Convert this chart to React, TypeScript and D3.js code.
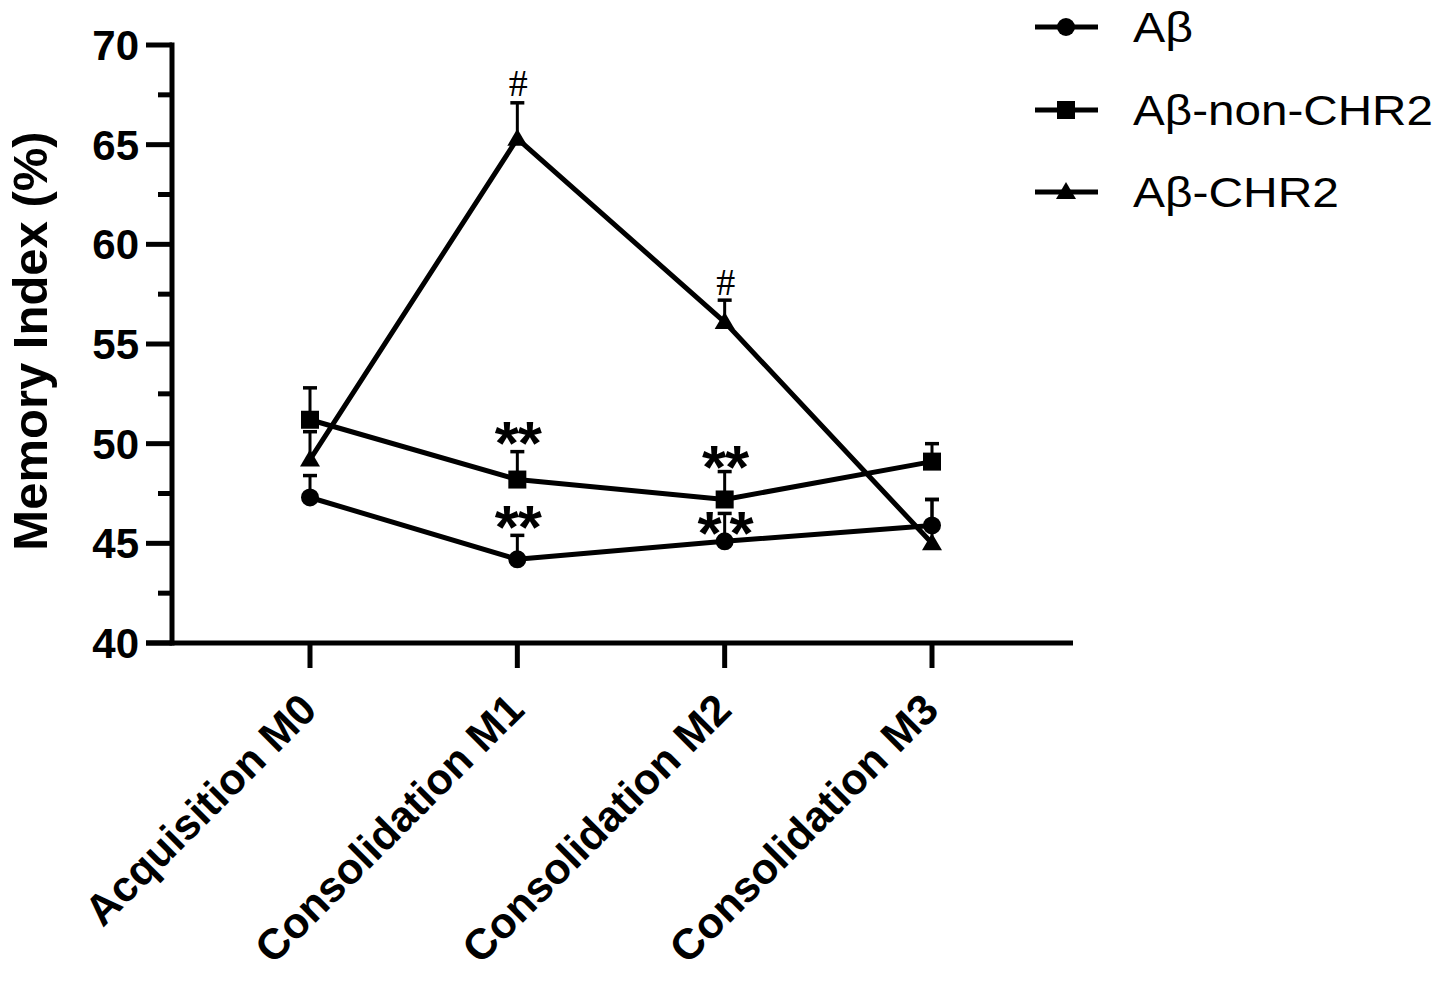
import * as d3 from "d3";
import { useEffect, useRef } from "react";

const categories = ["Acquisition M0", "Consolidation M1", "Consolidation M2", "Consolidation M3"];

const abMean = [47.3, 44.2, 45.1, 45.9];
const abErr = [1.1, 1.2, 1.4, 1.3];
const nonChr2Mean = [51.2, 48.2, 47.2, 49.1];
const nonChr2Err = [1.6, 1.4, 1.4, 0.9];
const chr2Mean = [49.2, 65.3, 56.1, 45.0];
const chr2Err = [1.4, 1.8, 1.1, 2.2];

const yTicks = [40, 45, 50, 55, 60, 65, 70];
const yMinorTicks = [42.5, 47.5, 52.5, 57.5, 62.5, 67.5];

// significance marks: category index and vertical position in data units
const starMarks = [
  { cat: 1, at: 50.55, spread: 0 },
  { cat: 2, at: 49.35, spread: 0 },
  { cat: 1, at: 46.3, spread: 0 },
  { cat: 2, at: 46.0, spread: 9 },
];
const hashMarks = [
  { cat: 1, at: 67.45 },
  { cat: 2, at: 57.45 },
];

type Series = { name: string; mean: number[]; err: number[]; shape: string };

const series: Series[] = [
  { name: "Aβ", mean: abMean, err: abErr, shape: "circle" },
  { name: "Aβ-non-CHR2", mean: nonChr2Mean, err: nonChr2Err, shape: "square" },
  { name: "Aβ-CHR2", mean: chr2Mean, err: chr2Err, shape: "triangle" },
];

const FONT = "'Liberation Sans', Arial, sans-serif";

function drawMarker(g: any, shape: string, cx: number, cy: number) {
  if (shape === "circle") {
    g.append("circle").attr("cx", cx).attr("cy", cy).attr("r", 9).attr("fill", "#000");
  } else if (shape === "square") {
    g.append("rect").attr("x", cx - 9).attr("y", cy - 9).attr("width", 18).attr("height", 18).attr("fill", "#000");
  } else {
    g.append("path")
      .attr("d", `M${cx},${cy - 10}L${cx + 10},${cy + 7}L${cx - 10},${cy + 7}Z`)
      .attr("fill", "#000");
  }
}

export default function App() {
  const ref = useRef<SVGSVGElement | null>(null);

  useEffect(() => {
    const svg = d3.select(ref.current);
    svg.selectAll("*").remove();

    const x = d3.scalePoint<string>().domain(categories).range([310, 932]);
    const y = d3.scaleLinear().domain([40, 70]).range([643, 45]);
    const axisLeftX = 172;

    // y axis
    const ya = svg.append("g");
    ya.append("line")
      .attr("x1", axisLeftX).attr("x2", axisLeftX)
      .attr("y1", y(70) - 2.5).attr("y2", y(40) + 2.5)
      .attr("stroke", "#000").attr("stroke-width", 5);
    ya.selectAll(".maj")
      .data(yTicks)
      .enter()
      .append("line")
      .attr("x1", 146).attr("x2", axisLeftX)
      .attr("y1", (d: number) => y(d)).attr("y2", (d: number) => y(d))
      .attr("stroke", "#000").attr("stroke-width", 5);
    ya.selectAll(".min")
      .data(yMinorTicks)
      .enter()
      .append("line")
      .attr("x1", 158).attr("x2", axisLeftX)
      .attr("y1", (d: number) => y(d)).attr("y2", (d: number) => y(d))
      .attr("stroke", "#000").attr("stroke-width", 5);
    ya.selectAll("text")
      .data(yTicks)
      .enter()
      .append("text")
      .attr("x", 139)
      .attr("y", (d: number) => y(d) + 15)
      .attr("text-anchor", "end")
      .attr("font-family", FONT)
      .attr("font-weight", "bold")
      .attr("font-size", 42)
      .text((d: number) => d);

    svg.append("text")
      .attr("transform", `translate(47,341) rotate(-90)`)
      .attr("text-anchor", "middle")
      .attr("font-family", FONT)
      .attr("font-weight", "bold")
      .attr("font-size", 49)
      .text("Memory Index (%)");

    // x axis
    const xa = svg.append("g");
    xa.append("line")
      .attr("x1", 146).attr("x2", 1073)
      .attr("y1", y(40)).attr("y2", y(40))
      .attr("stroke", "#000").attr("stroke-width", 5);
    xa.selectAll(".tick")
      .data(categories)
      .enter()
      .append("line")
      .attr("x1", (d: string) => x(d) as number).attr("x2", (d: string) => x(d) as number)
      .attr("y1", y(40)).attr("y2", 668)
      .attr("stroke", "#000").attr("stroke-width", 5);
    xa.selectAll("text")
      .data(categories)
      .enter()
      .append("text")
      .attr("transform", (d: string) => `translate(${(x(d) as number) + 9},712) rotate(-45)`)
      .attr("text-anchor", "end")
      .attr("font-family", FONT)
      .attr("font-weight", "bold")
      .attr("font-size", 43)
      .text((d: string) => d);

    // error bars (upward only)
    const eg = svg.append("g");
    series.forEach((s) => {
      s.mean.forEach((m, i) => {
        const cx = x(categories[i]) as number;
        const top = y(m + s.err[i]);
        eg.append("line").attr("x1", cx).attr("x2", cx).attr("y1", y(m)).attr("y2", top)
          .attr("stroke", "#000").attr("stroke-width", 3);
        eg.append("line").attr("x1", cx - 7).attr("x2", cx + 7).attr("y1", top).attr("y2", top)
          .attr("stroke", "#000").attr("stroke-width", 3.5);
      });
    });

    // lines + markers
    const line = d3.line<number>()
      .x((_d: number, i: number) => x(categories[i]) as number)
      .y((d: number) => y(d));
    series.forEach((s) => {
      svg.append("path")
        .attr("d", line(s.mean))
        .attr("fill", "none")
        .attr("stroke", "#000")
        .attr("stroke-width", 5)
        .attr("stroke-linejoin", "round");
      const mg = svg.append("g");
      s.mean.forEach((m, i) => drawMarker(mg, s.shape, x(categories[i]) as number, y(m)));
    });

    // significance marks
    starMarks.forEach((sm) => {
      const cx = x(categories[sm.cat]) as number;
      const cy = y(sm.at);
      [-1, 1].forEach((side) => {
        svg.append("text")
          .attr("x", cx + side * (11.5 + sm.spread / 2) + 1)
          .attr("y", cy + 31)
          .attr("text-anchor", "middle")
          .attr("font-family", FONT)
          .attr("font-weight", "bold")
          .attr("font-size", 62)
          .text("*");
      });
    });
    hashMarks.forEach((hm) => {
      const cx = x(categories[hm.cat]) as number;
      svg.append("text")
        .attr("x", cx + 1)
        .attr("y", y(hm.at))
        .attr("text-anchor", "middle")
        .attr("font-family", "'Liberation Serif', 'Times New Roman', serif")
        .attr("font-size", 38)
        .text("#");
    });

    // legend
    const rows = [27, 110, 192];
    series.forEach((s, i) => {
      const lg = svg.append("g");
      lg.append("line").attr("x1", 1035).attr("x2", 1098).attr("y1", rows[i]).attr("y2", rows[i])
        .attr("stroke", "#000").attr("stroke-width", 5);
      drawMarker(lg, s.shape, 1066, rows[i]);
      lg.append("text")
        .attr("x", 1133)
        .attr("y", rows[i] + 15)
        .attr("font-family", FONT)
        .attr("font-size", 42)
        .attr("textLength", [60, 300, 206][i])
        .attr("lengthAdjust", "spacingAndGlyphs")
        .text(s.name);
    });
  }, []);

  return (
    <svg
      ref={ref}
      width={1445}
      height={981}
      style={{ display: "block", position: "absolute", left: 0, top: 0, background: "#fff" }}
    />
  );
}
